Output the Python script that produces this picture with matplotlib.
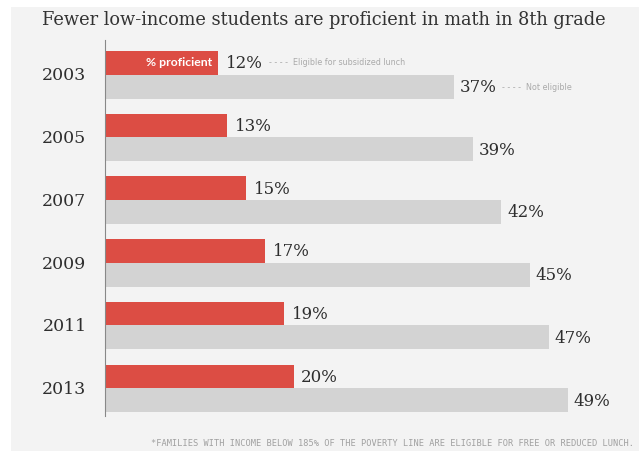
import matplotlib.pyplot as plt
from matplotlib.patches import Rectangle

years = ["2003", "2005", "2007", "2009", "2011", "2013"]
eligible = [12, 13, 15, 17, 19, 20]
not_eligible = [37, 39, 42, 45, 47, 49]

title = "Fewer low-income students are proficient in math in 8th grade"
note = "*FAMILIES WITH INCOME BELOW 185% OF THE POVERTY LINE ARE ELIGIBLE FOR FREE OR REDUCED LUNCH."

RED = "#dc4d44"
GRAY = "#d3d3d3"
BG = "#f3f3f3"

W, H = 639, 451
fig = plt.figure(figsize=(W / 100, H / 100), dpi=100)
fig.patch.set_facecolor("white")
# light panel behind everything
fig.patches.append(Rectangle((11 / W, 0), 1 - 11 / W, 1 - 7 / H,
                             transform=fig.transFigure, facecolor=BG,
                             edgecolor="none", zorder=-5))

# axes in pixel-ish layout: left edge at the axis line
left, right = 104.5, 639
top, bottom = 40, 416
ax = fig.add_axes([left / W, 1 - bottom / H, (right - left) / W, (bottom - top) / H])
ax.set_zorder(2)
ax.set_facecolor("none")
px_per_pct = 9.45
ax.set_xlim(0, (right - left) / px_per_pct)
ax.set_ylim(bottom, top)  # y in pixels, downward

spacing = 62.7
first = 74.5
bh_red, bh_gray = 23.5, 24

for i, yr in enumerate(years):
    c = first + spacing * i
    ax.barh(c - bh_red / 2, eligible[i], height=bh_red, color=RED, left=0)
    ax.barh(c + bh_gray / 2, not_eligible[i], height=bh_gray, color=GRAY, left=0)
    ax.text(eligible[i] + 0.8, c - bh_red / 2 + 1, f"{eligible[i]}%",
            family="DejaVu Serif", fontsize=12, color="#2e2e2e", va="center", ha="left")
    ax.text(not_eligible[i] + 0.6, c + bh_gray / 2 + 1, f"{not_eligible[i]}%",
            family="DejaVu Serif", fontsize=12, color="#2e2e2e", va="center", ha="left")
    ax.text(-1.9, c + 1.5, yr, family="DejaVu Serif", fontsize=12.5,
            color="#2e2e2e", va="center", ha="right", clip_on=False)

# legend-like annotations on the first group
c0 = first
ax.text(eligible[0] - 0.6, c0 - bh_red / 2, "% proficient", family="Lato",
        fontweight="bold", fontsize=8.8, color="white", va="center", ha="right")
ax.text(eligible[0] + 5.4, c0 - bh_red / 2, "- - - -  Eligible for subsidized lunch",
        family="Liberation Sans Narrow", fontsize=5.8, color="#aaaaaa",
        va="center", ha="left")
ax.text(not_eligible[0] + 5.1, c0 + bh_gray / 2 + 1, "- - - -  Not eligible",
        family="Liberation Sans Narrow", fontsize=5.8, color="#aaaaaa",
        va="center", ha="left")

for s in ["top", "right", "bottom"]:
    ax.spines[s].set_visible(False)
ax.spines["left"].set_color("#888888")
ax.spines["left"].set_linewidth(0.8)
ax.set_xticks([])
ax.set_yticks([])

fig.text(324 / W, 1 - 20 / H, title, family="DejaVu Serif", fontsize=12.8,
         color="#333333", ha="center", va="center")
fig.text(634 / W, 1 - 444 / H, note, family="DejaVu Sans Mono", fontsize=6.2,
         color="#a0a0a0", ha="right", va="center")

fig.savefig("out.png", dpi=100, facecolor=fig.get_facecolor())
